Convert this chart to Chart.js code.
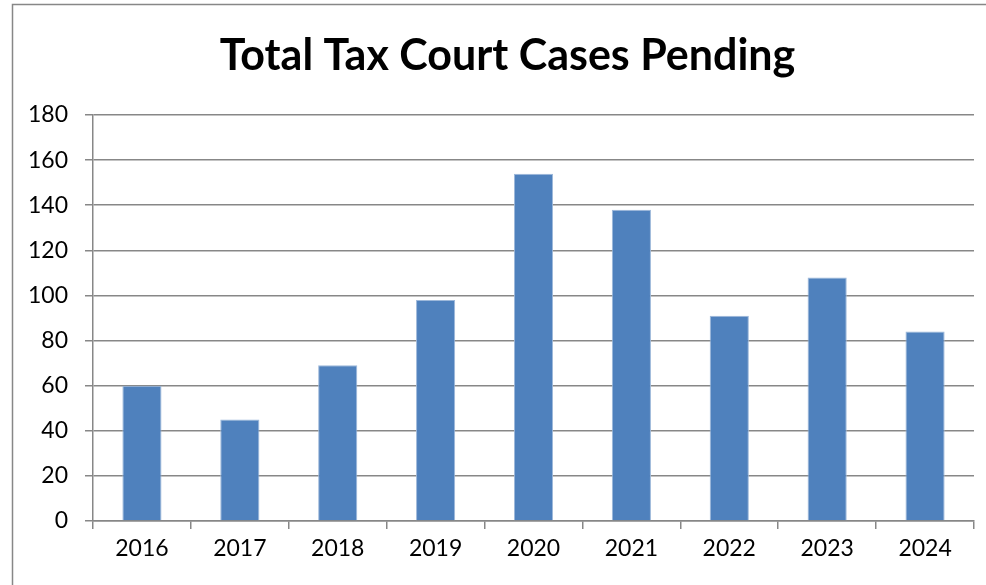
<!DOCTYPE html>
<html>
<head>
<meta charset="utf-8">
<script src="https://cdn.jsdelivr.net/npm/chart.js@4/dist/chart.umd.min.js"></script>
<style>
  html, body { margin: 0; padding: 0; background: #fff; }
  #wrap { width: 986px; height: 585px; position: relative; }
</style>
</head>
<body>
<div id="wrap"><canvas id="c" width="986" height="585"></canvas></div>
<script>
const titleText = "Total Tax Court Cases Pending";
const categories = ["2016", "2017", "2018", "2019", "2020", "2021", "2022", "2023", "2024"];
const casesPending = [60, 45, 69, 98, 154, 138, 91, 108, 84];
const yTickMin = 0;
const yTickMax = 180;
const yTickStep = 20;

const gridColor = '#878787';

const frame = {
  id: 'frame',
  afterLayout(chart) {
    // centre the title over the framed area (frame starts at x=12), as in the reference
    if (chart.titleBlock) {
      chart.titleBlock.left = 41;
      chart.titleBlock.right = 974;
    }
  },
  afterDraw(chart) {
    const ctx = chart.ctx;
    ctx.save();
    ctx.strokeStyle = gridColor;
    ctx.lineWidth = 1.5;
    ctx.beginPath();
    ctx.moveTo(12.5, 585);
    ctx.lineTo(12.5, 4.5);
    ctx.lineTo(986, 4.5);
    ctx.stroke();
    ctx.restore();
  }
};

new Chart(document.getElementById('c'), {
  type: 'bar',
  data: {
    labels: categories,
    datasets: [{
      data: casesPending,
      backgroundColor: '#4F81BD',
      borderColor: '#9DB8DA',
      borderWidth: 1,
      barPercentage: 0.4,
      categoryPercentage: 1.0
    }]
  },
  options: {
    responsive: false,
    animation: false,
    devicePixelRatio: 1,
    layout: { padding: { left: 0, right: 12, top: 0, bottom: 0 } },
    plugins: {
      legend: { display: false },
      tooltip: { enabled: false },
      title: {
        display: true,
        text: titleText,
        color: '#000',
        font: { family: 'Lato', size: 43, weight: 'bold', lineHeight: 1 },
        padding: { top: 35, bottom: 37 }
      }
    },
    scales: {
      x: {
        offset: true,
        grid: { display: true, drawOnChartArea: false, drawTicks: true, tickLength: 8, color: gridColor, lineWidth: 1.5, offset: true },
        border: { display: true, color: gridColor, width: 1.5 },
        ticks: { color: '#000', font: { family: 'Lato', size: 23 }, padding: 6, maxRotation: 0 },
        afterFit(s) { s.height = 64; }
      },
      y: {
        min: yTickMin,
        max: yTickMax,
        ticks: { stepSize: yTickStep, color: '#000', font: { family: 'Lato', size: 23 }, padding: 17 },
        grid: { color: gridColor, lineWidth: 1.5, tickLength: 8, drawTicks: true },
        border: { display: true, color: gridColor, width: 1.5 },
        afterFit(s) { s.width = 93; }
      }
    }
  },
  plugins: [frame]
});
</script>
</body>
</html>
